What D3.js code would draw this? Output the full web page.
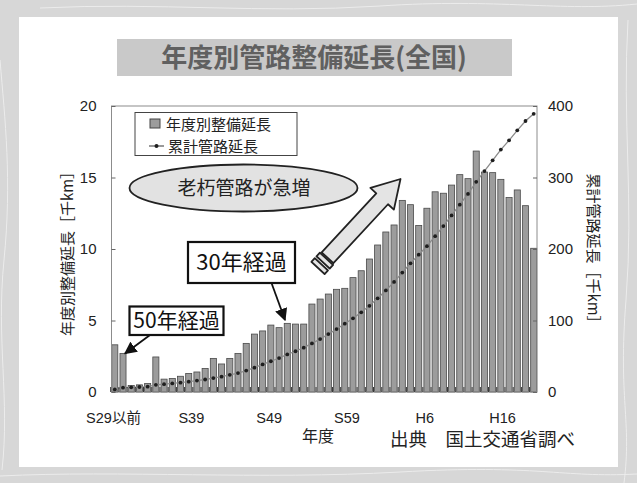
<!DOCTYPE html>
<html>
<head>
<meta charset="utf-8">
<script src="https://cdn.jsdelivr.net/npm/d3@7"></script>
<style>
  body { margin: 0; background: #fff; }
  svg { display: block; }
  text { font-family: "Liberation Sans", "Noto Sans CJK JP", sans-serif; }
  .jp { font-family: "Noto Sans CJK JP", sans-serif; }
</style>
</head>
<body>
<div id="chart"></div>
<script>
// fiscal years (S = Showa, H = Heisei)
const years = ['S29以前',
  'S30', 'S31', 'S32', 'S33', 'S34', 'S35', 'S36', 'S37', 'S38', 'S39',
  'S40', 'S41', 'S42', 'S43', 'S44', 'S45', 'S46', 'S47', 'S48', 'S49',
  'S50', 'S51', 'S52', 'S53', 'S54', 'S55', 'S56', 'S57', 'S58', 'S59',
  'S60', 'S61', 'S62', 'S63',
  'H1', 'H2', 'H3', 'H4', 'H5', 'H6', 'H7', 'H8', 'H9', 'H10',
  'H11', 'H12', 'H13', 'H14', 'H15', 'H16', 'H17']

// 年度別整備延長 (thousand km, left axis)
const annualLength = [3.3, 2.7, 0.45, 0.5, 0.6, 2.45, 0.9, 0.95, 1.1, 1.3, 1.4,
  1.65, 2.35, 1.96, 2.35, 2.7, 3.4, 4.05, 4.27, 4.68, 4.5,
  4.8, 4.75, 4.75, 6.15, 6.5, 6.85, 7.18, 7.25, 8.0, 8.48,
  9.3, 10.28, 11.19, 11.68,
  13.4, 13.1, 11.65, 12.85, 14.0, 13.9, 14.47, 15.2, 14.92, 16.85,
  15.38, 15.34, 14.87, 13.6, 14.13, 13.03, 10.05]

// 累計管路延長 (thousand km, right axis)
const cumulativeLength = [3.5, 6, 6.5, 7, 7.5, 10, 11, 12, 13, 14.5, 16,
  17.5, 19.5, 21.5, 24, 26.5, 30, 34, 38.5, 43, 47.5,
  52.5, 57, 62, 68, 74, 81, 88, 95.5, 103, 111.5,
  120.5, 131, 142, 154,
  167, 180, 192, 204, 218, 232, 247, 262, 277, 294,
  309, 324, 339, 352, 366, 379, 389]

const tickLabels = ['S29以前', 'S39', 'S49', 'S59', 'H6', 'H16']
const leftTicks = [0, 5, 10, 15, 20]
const rightTicks = [0, 100, 200, 300, 400]

const W = 637, H = 483
const plot = { x: 111.5, y: 106, w: 425.5, h: 286 }

const svg = d3.select('#chart').append('svg')
  .attr('width', W)
  .attr('height', H)

// paper background + white slide panel
svg.append('rect').attr('width', W).attr('height', H).attr('fill', '#d7d7d7')
const streaks = svg.append('g').attr('fill', 'none').attr('stroke', '#ececec').attr('stroke-width', 1)
streaks.append('path').attr('d', 'M0,60 C5,120 12,180 4,260 S10,400 2,470')
streaks.append('path').attr('d', 'M628,20 C622,120 634,200 626,300 S632,420 624,483')
streaks.append('path').attr('d', 'M40,8 C160,2 260,14 380,6 S560,12 637,4')
streaks.append('path').attr('d', 'M0,476 C120,470 260,480 400,472 S560,478 637,474')
svg.append('rect')
  .attr('x', 19).attr('y', 17)
  .attr('width', 599).attr('height', 450)
  .attr('fill', '#fff')

// title
svg.append('rect')
  .attr('x', 117).attr('y', 39)
  .attr('width', 395).attr('height', 37)
  .attr('fill', '#c9c9c9')
svg.append('text')
  .attr('class', 'jp')
  .attr('x', 314).attr('y', 67)
  .attr('text-anchor', 'middle')
  .attr('font-size', 26)
  .attr('font-weight', 'bold')
  .attr('fill', '#606060')
  .text('年度別管路整備延長(全国)')

// scales
const x = d3.scaleBand()
  .domain(years)
  .range([0, plot.w])
  .paddingInner(0.26)
  .paddingOuter(0.03)

const yLeft = d3.scaleLinear().domain([0, 20]).range([plot.h, 0])
const yRight = d3.scaleLinear().domain([0, 400]).range([plot.h, 0])

// the slide's year labels drift left of the bars, so they get their own scale
const labelX = d3.scalePoint()
  .domain(tickLabels)
  .range([1.5, plot.w * 0.918])

const g = svg.append('g')
  .attr('transform', `translate(${plot.x}, ${plot.y})`)

g.append('rect')
  .attr('width', plot.w).attr('height', plot.h)
  .attr('fill', '#fff')

// bars
g.selectAll('.bar')
  .data(annualLength)
  .enter()
  .append('rect')
    .attr('class', 'bar')
    .attr('x', (d, i) => x(years[i]))
    .attr('y', d => yLeft(d))
    .attr('width', x.bandwidth())
    .attr('height', d => plot.h - yLeft(d))
    .attr('fill', '#9c9c9c')
    .attr('stroke', '#4a4a4a')
    .attr('stroke-width', 0.8)

// cumulative line
const line = d3.line()
  .x((d, i) => x(years[i]) + x.bandwidth() / 2)
  .y(d => yRight(d))

g.append('path')
  .datum(cumulativeLength)
  .attr('d', line)
  .attr('fill', 'none')
  .attr('stroke', '#8a8a8a')
  .attr('stroke-width', 1.3)

g.selectAll('.dot')
  .data(cumulativeLength)
  .enter()
  .append('circle')
    .attr('class', 'dot')
    .attr('cx', (d, i) => x(years[i]) + x.bandwidth() / 2)
    .attr('cy', d => yRight(d))
    .attr('r', 1.9)
    .attr('fill', '#1e1e1e')

// plot border
g.append('rect')
  .attr('width', plot.w).attr('height', plot.h)
  .attr('fill', 'none')
  .attr('stroke', '#8c8c8c')
  .attr('stroke-width', 1)

// category ticks sit in the gaps between bars
const xTicks = g.append('g')
  .attr('transform', `translate(${-x.step() / 2}, ${plot.h})`)
  .call(d3.axisBottom(x).tickSize(-5).tickFormat(''))
xTicks.select('.domain').remove()
xTicks.selectAll('line').attr('stroke', '#333')

const xLabels = g.append('g')
  .attr('transform', `translate(0, ${plot.h})`)
  .call(d3.axisBottom(labelX).tickSize(0).tickPadding(21))
xLabels.select('.domain').remove()
xLabels.selectAll('text')
  .attr('font-size', 14.5)
  .attr('fill', '#222')
  .style('font-family', '"Liberation Sans", "Noto Sans CJK JP", sans-serif')

const leftAxis = g.append('g')
  .call(d3.axisLeft(yLeft).tickValues(leftTicks).tickSize(-4).tickPadding(15))
leftAxis.select('.domain').remove()
leftAxis.selectAll('line').attr('stroke', '#666')
leftAxis.selectAll('text')
  .attr('font-size', 15)
  .attr('fill', '#222')
  .style('font-family', '"Liberation Sans", sans-serif')

const rightAxis = g.append('g')
  .attr('transform', `translate(${plot.w}, 0)`)
  .call(d3.axisRight(yRight).tickValues(rightTicks).tickSize(-4).tickPadding(11))
rightAxis.select('.domain').remove()
rightAxis.selectAll('line').attr('stroke', '#666')
rightAxis.selectAll('text')
  .attr('font-size', 15)
  .attr('fill', '#222')
  .style('font-family', '"Liberation Sans", sans-serif')

// axis titles
svg.append('text')
  .attr('class', 'jp')
  .attr('transform', 'translate(73, 250) rotate(-90)')
  .attr('text-anchor', 'middle')
  .attr('font-size', 15)
  .attr('fill', '#222')
  .text('年度別整備延長［千km］')

svg.append('text')
  .attr('class', 'jp')
  .attr('transform', 'translate(588, 252) rotate(90)')
  .attr('text-anchor', 'middle')
  .attr('font-size', 15)
  .attr('fill', '#222')
  .text('累計管路延長［千km］')

svg.append('text')
  .attr('class', 'jp')
  .attr('x', 318).attr('y', 442)
  .attr('text-anchor', 'middle')
  .attr('font-size', 16)
  .attr('fill', '#222')
  .text('年度')

svg.append('text')
  .attr('class', 'jp')
  .attr('x', 390).attr('y', 446)
  .attr('font-size', 18.5)
  .attr('fill', '#222')
  .text('出典　国土交通省調べ')

// legend
const legend = svg.append('g')
legend.append('rect')
  .attr('x', 135).attr('y', 112.5)
  .attr('width', 162).attr('height', 43)
  .attr('fill', '#fff')
  .attr('stroke', '#444')
legend.append('rect')
  .attr('x', 150).attr('y', 119)
  .attr('width', 10).attr('height', 9)
  .attr('fill', '#9c9c9c')
  .attr('stroke', '#444')
legend.append('text')
  .attr('class', 'jp')
  .attr('x', 166).attr('y', 129.5)
  .attr('font-size', 15)
  .attr('fill', '#222')
  .text('年度別整備延長')
legend.append('line')
  .attr('x1', 149).attr('x2', 164)
  .attr('y1', 146).attr('y2', 146)
  .attr('stroke', '#555')
  .attr('stroke-width', 1.2)
legend.append('circle')
  .attr('cx', 156.5).attr('cy', 146)
  .attr('r', 2)
  .attr('fill', '#1e1e1e')
legend.append('text')
  .attr('class', 'jp')
  .attr('x', 168).attr('y', 151.5)
  .attr('font-size', 15)
  .attr('fill', '#222')
  .text('累計管路延長')

// callouts
svg.append('ellipse')
  .attr('cx', 243.5).attr('cy', 188)
  .attr('rx', 114).attr('ry', 23.5)
  .attr('fill', '#e2e2e2')
  .attr('stroke', '#222')
  .attr('stroke-width', 1.8)
svg.append('text')
  .attr('class', 'jp')
  .attr('x', 244).attr('y', 195)
  .attr('text-anchor', 'middle')
  .attr('font-size', 19)
  .attr('fill', '#222')
  .text('老朽管路が急増')

svg.append('defs').append('marker')
  .attr('id', 'head')
  .attr('viewBox', '0 0 10 10')
  .attr('refX', 9).attr('refY', 5)
  .attr('markerWidth', 7).attr('markerHeight', 7)
  .attr('markerUnits', 'strokeWidth')
  .attr('orient', 'auto')
  .append('path')
    .attr('d', 'M0,0 L10,5 L0,10 z')
    .attr('fill', '#111')

function callout(bx, by, bw, bh, fs, label, from, to) {
  svg.append('line')
    .attr('x1', from[0]).attr('y1', from[1])
    .attr('x2', to[0]).attr('y2', to[1])
    .attr('stroke', '#111')
    .attr('stroke-width', 1.8)
    .attr('marker-end', 'url(#head)')
  svg.append('rect')
    .attr('x', bx).attr('y', by)
    .attr('width', bw).attr('height', bh)
    .attr('fill', '#fff')
    .attr('stroke', '#111')
    .attr('stroke-width', 2.2)
  svg.append('text')
    .attr('class', 'jp')
    .attr('x', bx + bw / 2).attr('y', by + bh / 2 + fs * 0.36)
    .attr('text-anchor', 'middle')
    .attr('font-size', fs)
    .attr('fill', '#111')
    .text(label)
}

callout(188, 242, 107, 41, 22, '30年経過', [271.5, 283], [285, 320])
callout(129.5, 306.5, 94, 28.5, 21, '50年経過', [150, 335], [125, 353.5])

// big hollow arrow
const tail = [318, 268], tip = [400.5, 179]
const ang = Math.atan2(tip[1] - tail[1], tip[0] - tail[0]) * 180 / Math.PI
const L = Math.hypot(tip[0] - tail[0], tip[1] - tail[1])
const arrow = svg.append('g')
  .attr('transform', `translate(${tail[0]}, ${tail[1]}) rotate(${ang})`)
  .attr('fill', '#e4e4e4')
  .attr('stroke', '#222')
  .attr('stroke-width', 1.8)
  .attr('stroke-linejoin', 'round')
arrow.append('path')
  .attr('d', `M14,-8 L${L - 27},-8 L${L - 27},-16 L${L},0 L${L - 27},16 L${L - 27},8 L14,8 Z`)
arrow.append('rect').attr('x', 7.5).attr('y', -9).attr('width', 5).attr('height', 18)
arrow.append('rect').attr('x', 0).attr('y', -9).attr('width', 5).attr('height', 18)
</script>
</body>
</html>
